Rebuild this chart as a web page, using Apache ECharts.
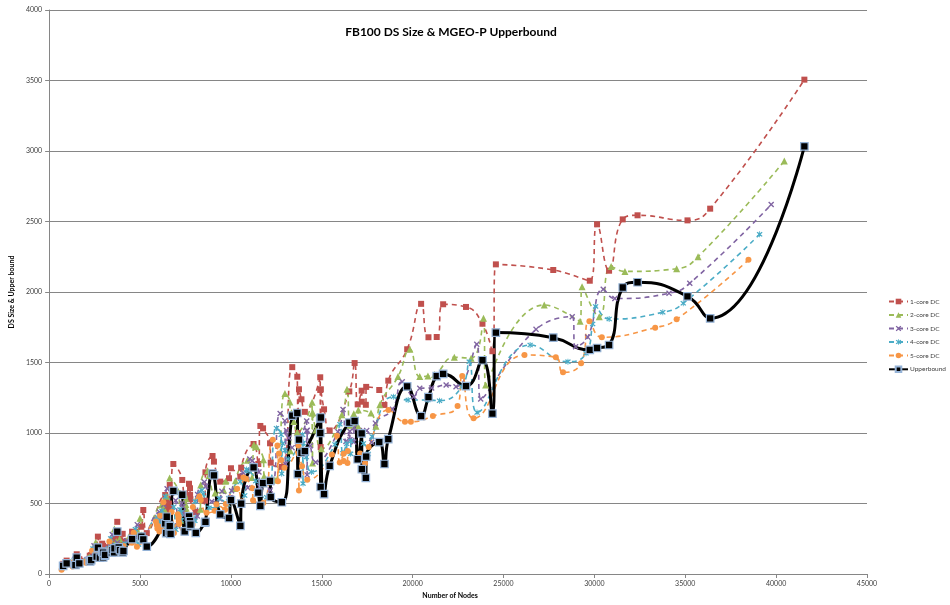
<!DOCTYPE html>
<html><head><meta charset="utf-8">
<script src="https://cdn.jsdelivr.net/npm/echarts/dist/echarts.min.js"></script>
<style>html,body{margin:0;padding:0;background:#fff}#c{width:950px;height:605px}</style>
</head><body><div id="c"></div>
<script>
const chartTitle = 'FB100 DS Size & MGEO-P Upperbound';
const xAxisName = 'Number of Nodes';
const yAxisName = 'DS Size & Upper bound';
const seriesNames = ['1-core DC','2-core DC','3-core DC','4-core DC','5-core DC','Upperbound'];

const nodeCounts = [769,962,1446,1518,1659,2235,2252,2314,2613,2682,
2790,2920,2970,2970,3068,3075,3445,3482,3578,3593,
3748,3826,3898,4047,4087,4563,5075,5180,5372,6386,
6440,6472,6591,6596,6637,6682,6833,7324,7460,7694,
7752,7755,7772,8069,8578,8600,8991,9069,9414,9895,
10004,10521,10567,11247,11509,11621,11770,12155,12193,12803,
13377,13653,13686,13746,13882,14070,14916,14917,14940,14948,
15126,15436,16516,16808,16977,17196,17206,17425,17444,18163,
18448,18660,19700,20467,20871,21325,21679,22937,23842,24389,
24580,27737,29747,30147,30809,31560,32375,35123,36371,41554];

const upperbound = [58,76,64,116,76,94,90,99,123,187,
116,158,118,151,130,135,154,170,154,182,
300,189,170,154,163,248,265,246,194,360,
290,406,343,300,340,284,589,562,302,408,
374,338,350,291,364,370,712,700,423,397,
525,341,499,756,577,483,645,661,546,509,
1123,1142,708,953,860,872,1104,1000,617,1110,
566,767,1073,1085,814,998,744,682,832,935,
780,957,1330,1120,1254,1404,1419,1333,1516,1138,
1712,1676,1589,1603,1624,2032,2069,1969,1813,3033];

const core1DC = [72,95,85,140,105,130,120,135,165,265,
160,215,170,200,185,190,215,230,210,250,
370,260,240,285,230,300,335,454,290,560,
520,480,450,500,631,470,780,667,430,640,
608,560,530,440,520,721,837,797,655,679,
750,690,754,922,780,1050,1033,927,790,760,
1467,1399,1000,1310,1239,1150,1395,1305,900,1310,
1168,1018,1295,1496,1203,1300,1222,1200,1327,1305,
1199,1371,1594,1916,1679,1681,1913,1894,1775,1580,
2196,2156,2080,2480,2151,2515,2544,2508,2591,3506];

const core2Nodes = [740,925,1390,1450,1595,2150,2165,2225,2515,2560,
2690,2810,2855,2860,2955,2965,3315,3355,3440,3460,
3590,3690,3755,3880,3945,4400,4900,5000,5190,
6195,6245,6280,6395,6400,6440,6480,6630,7105,7235,7465,
7520,7520,7540,7825,8320,8340,8720,8795,9130,9600,
9705,10205,10250,10910,11165,11270,11415,11790,11825,12420,
12975,13245,13275,13335,13465,13650,14470,14470,14490,14500,
14670,14975,
16105,16390,16550,16765,16775,16990,17010,17710,17985,18195,
19195,19848,20392,20843,21207,22294,23218,23898,24017,27241,29214,29323,30269,30922,31683,34526,35705,40451];
const core2DC = [60,80,75,120,92,115,106,118,145,225,142,188,150,176,163,168,190,204,186,222,320,230,212,250,204,265,296,395,258,
492,458,425,398,442,552,416,680,585,382,562,535,493,467,390,460,632,732,698,575,596,657,606,661,806,684,916,902,811,693,667,1280,1220,875,1143,1082,1005,1218,1140,788,1145,1021,889,1130,1310,1055,1137,1068,1050,1163,1141,1048,1200,
1400,1594,1400,1404,1415,1537,1530,1813,1340,1908,1792,2038,1825,2180,2146,2165,2250,2929];

const core3Nodes = [715,895,1345,1400,1545,2085,2100,2160,2440,2470,2610,2725,2765,2770,2865,2875,3210,3250,3330,3355,3470,3580,3640,3750,3825,4265,4750,4850,5035,
6065,6120,6150,6260,6265,6305,6350,6490,6960,7085,7310,7365,7365,7385,7665,8150,8170,8540,8615,8945,9400,9505,9995,10040,10685,10935,11040,11180,11545,11585,12165,12710,12970,13000,13060,13190,13365,14170,14170,14195,14200,14370,14665,
15890,16170,16330,16545,16550,16760,16780,17470,17745,17950,
18886,19429,20065,20392,21044,21843,22387,23528,23746,26790,28780,28965,29633,30487,31128,34107,35249,39728];
const core3DC = [48,70,66,105,82,102,95,105,128,200,128,168,134,157,146,150,170,182,166,198,280,205,190,222,182,236,264,350,230,
440,410,381,357,396,492,373,605,522,343,502,478,441,418,350,412,564,652,622,514,532,587,541,590,718,611,816,803,723,619,596,1138,1086,780,1018,964,896,1085,1016,703,1020,910,793,
1008,1167,940,1013,952,936,1037,1017,934,1070,
1168,1364,1257,1317,1320,1340,1328,1629,1241,1735,1825,1612,1680,2019,1954,1991,2062,2620];

const core4Nodes = [700,875,1315,1370,1510,2040,2055,2110,2385,2410,2555,2665,2700,2710,2800,2810,3140,3180,3255,3280,3385,3500,3560,3660,3745,4170,4650,4745,4925,
5970,6020,6050,6160,6165,6205,6245,6390,6850,6975,7195,7250,7250,7265,7545,8020,8040,8405,8480,8800,9250,9355,9835,9880,10515,10760,10865,11005,11365,11400,11970,12505,12765,12795,12850,12980,13155,13945,13950,13970,13975,14145,14430,
15725,16000,16160,16370,16380,16590,16605,17290,17560,17765,
18940,19755,20843,21479,22713,23110,23544,26464,28546,29541,29905,30068,30813,33765,34890,39092];
const core4DC = [40,62,60,95,75,93,88,96,118,180,117,152,122,143,133,137,155,166,152,180,252,187,173,202,166,215,241,318,210,
402,375,348,326,362,448,341,550,476,314,458,436,403,382,320,377,515,594,567,469,486,535,493,538,654,557,742,731,659,565,544,1034,988,711,926,877,816,987,925,641,929,829,723,
918,1062,856,923,867,852,944,926,851,975,
1257,1234,1234,1229,1328,1506,1145,1624,1506,1565,1773,1898,1808,1856,1920,2409];

const core5Nodes = [685,855,1290,1340,1480,2000,2010,2070,2340,2360,2505,2610,2645,2655,2745,2755,3075,3115,3190,3215,3315,3435,3490,3585,3675,4090,4560,4650,4830,
5875,5925,5955,6065,6070,6105,6145,6285,6740,6865,7080,7130,7135,7150,7425,7890,7910,8270,8345,8660,9105,9205,9680,9720,10345,10590,10690,10830,11185,11220,11780,12305,12560,12590,12645,12770,12945,13720,13725,13745,13750,13915,14200,
15560,15835,15990,16200,16210,16415,16430,17110,17380,17580,
18668,19576,19902,21114,22473,22729,23354,26154,27877,28274,29269,29726,30410,33346,34526,38478];
const core5DC = [30,55,54,85,68,86,80,88,108,165,108,140,112,132,122,126,143,153,140,166,230,172,159,186,153,198,222,292,194,
372,347,322,302,335,414,316,508,440,291,424,404,373,354,297,349,476,549,524,434,449,495,456,497,604,515,685,675,609,523,503,953,911,657,854,809,753,910,853,593,857,765,668,
848,980,791,852,801,787,872,855,786,900,
1163,1080,1080,1120,1191,1404,1104,1553,1537,1430,1494,1792,1679,1747,1806,2228];

const xTicks = {min:0, max:45000, interval:5000};
const yTicks = {min:0, max:4000, interval:500};

function pairs(xs, ys){
  const n = Math.min(xs.length, ys.length);
  const out = [];
  for(let i=0;i<n;i++) out.push([xs[i], ys[i]]);
  out.sort((a,b)=>a[0]-b[0]);
  return out;
}

const FONT = 'Lato, "Liberation Sans", sans-serif';
const xSym = 'path://M1.6,0 L5,3.4 L8.4,0 L10,1.6 L6.6,5 L10,8.4 L8.4,10 L5,6.6 L1.6,10 L0,8.4 L3.4,5 L0,1.6 Z';
const starSym = 'path://M1.6,0 L5,3.4 L8.4,0 L10,1.6 L6.6,5 L10,8.4 L8.4,10 L5,6.6 L1.6,10 L0,8.4 L3.4,5 L0,1.6 Z M4.3,-1 L5.7,-1 L5.7,11 L4.3,11 Z';

function dcSeries(name, data, color, symbol, size){
  return {
    name, type:'line', data, smooth:0.5, symbol, symbolSize:size,
    showSymbol:true,
    itemStyle:{color:color},
    lineStyle:{color:color, width:1.6, type:[5,4]},
    emphasis:{disabled:true}
  };
}

const plainNum = v => String(v);

const chart = echarts.init(document.getElementById('c'), null, {renderer:'canvas'});
chart.setOption({
  animation:false,
  backgroundColor:'#ffffff',
  textStyle:{fontFamily:FONT},
  title:{
    text:chartTitle, left:446, top:21, textAlign:'center',
    textStyle:{fontSize:12, fontWeight:'bold', color:'#000', fontFamily:FONT}
  },
  legend:{
    orient:'vertical', left:883, top:293, itemWidth:19, itemHeight:7, itemGap:6.5,
    textStyle:{fontSize:6.5, color:'#404040', fontFamily:FONT, padding:[0,0,0,-3]},
    data:seriesNames
  },
  grid:{left:41, right:83, top:10, bottom:31, containLabel:false},
  xAxis:{
    type:'value', min:xTicks.min, max:xTicks.max, interval:xTicks.interval,
    name:xAxisName, nameLocation:'middle', nameGap:17,
    nameTextStyle:{fontSize:7, fontWeight:'bold', color:'#000', padding:[0,16,0,0]},
    axisLine:{show:true, lineStyle:{color:'#868686', width:1}},
    axisTick:{show:true, length:4, lineStyle:{color:'#868686'}},
    axisLabel:{fontSize:7, color:'#404040', margin:6, formatter:plainNum},
    splitLine:{show:false}
  },
  yAxis:{
    type:'value', min:yTicks.min, max:yTicks.max, interval:yTicks.interval,
    name:yAxisName, nameLocation:'middle', nameGap:27,
    nameTextStyle:{fontSize:7, fontWeight:'bold', color:'#000'},
    axisLine:{show:true, lineStyle:{color:'#868686', width:1}},
    axisTick:{show:true, length:4, lineStyle:{color:'#868686'}},
    axisLabel:{fontSize:7, color:'#404040', margin:7, formatter:plainNum},
    splitLine:{show:true, lineStyle:{color:'#868686', width:1}}
  },
  series:[
    dcSeries(seriesNames[0], pairs(nodeCounts, core1DC), '#C0504D', 'rect', 6),
    dcSeries(seriesNames[1], pairs(core2Nodes, core2DC), '#9BBB59', 'triangle', 7),
    dcSeries(seriesNames[2], pairs(core3Nodes, core3DC), '#8064A2', xSym, 6),
    dcSeries(seriesNames[3], pairs(core4Nodes, core4DC), '#4BACC6', starSym, 6),
    dcSeries(seriesNames[4], pairs(core5Nodes, core5DC), '#F79646', 'circle', 6),
    {
      name:seriesNames[5], type:'line', data:pairs(nodeCounts, upperbound), smooth:0.5,
      symbol:'rect', symbolSize:7.5, showSymbol:true,
      itemStyle:{color:'#000000', borderColor:'#95B3D7', borderWidth:1.2},
      lineStyle:{color:'#000000', width:3},
      emphasis:{disabled:true}
    }
  ]
});
</script></body></html>
